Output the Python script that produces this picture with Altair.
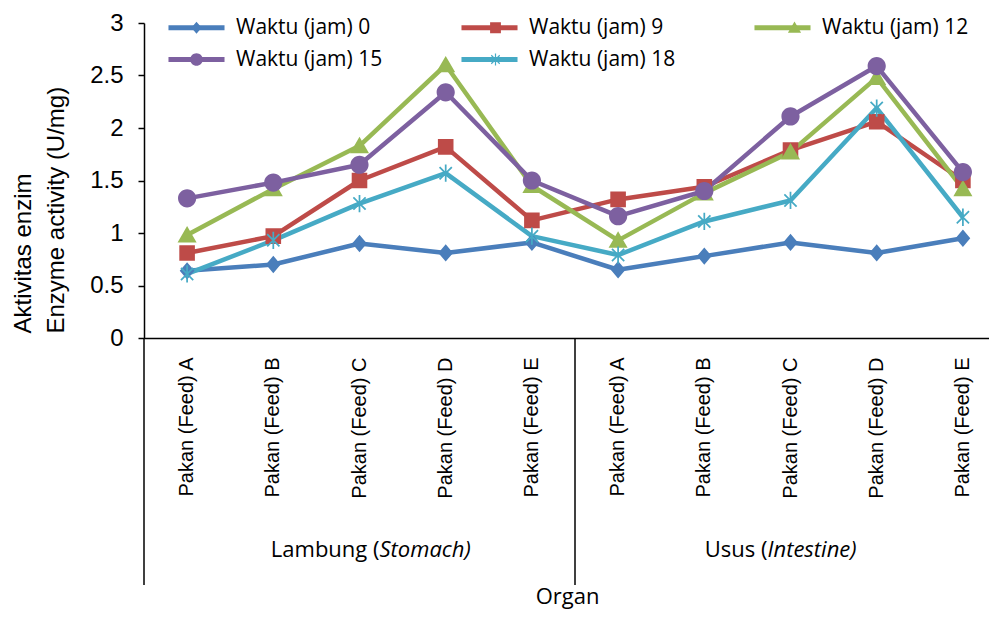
import altair as alt
import pandas as pd

# ---------------- data ----------------
organs = ["Lambung", "Usus"]
organ_left = ["Lambung (", "Usus ("]
organ_right = ["Stomach)", "Intestine)"]
feeds = ["Pakan (Feed) A", "Pakan (Feed) B", "Pakan (Feed) C", "Pakan (Feed) D", "Pakan (Feed) E"]
series_names = ["Waktu (jam) 0", "Waktu (jam) 9", "Waktu (jam) 12", "Waktu (jam) 15", "Waktu (jam) 18"]

jam0 = [0.64, 0.70, 0.90, 0.81, 0.91, 0.65, 0.78, 0.91, 0.81, 0.95]
jam9 = [0.81, 0.97, 1.50, 1.82, 1.12, 1.32, 1.44, 1.79, 2.06, 1.50]
jam12 = [0.98, 1.42, 1.83, 2.60, 1.45, 0.93, 1.38, 1.77, 2.48, 1.42]
jam15 = [1.33, 1.48, 1.65, 2.34, 1.50, 1.16, 1.40, 2.11, 2.59, 1.58]
jam18 = [0.61, 0.93, 1.28, 1.57, 0.97, 0.79, 1.11, 1.31, 2.19, 1.15]

y_ticks = [0, 0.5, 1, 1.5, 2, 2.5, 3]
colors = ["#4A7EBB", "#BE4B48", "#98B954", "#7D60A0", "#46AAC5"]

# ---------------- tables ----------------
keys = [f"{o}|{f}" for o in organs for f in feeds]
rows = []
for s, vals in zip(series_names, [jam0, jam9, jam12, jam15, jam18]):
    for k, v in zip(keys, vals):
        rows.append({"series": s, "key": k, "value": v})
df = pd.DataFrame(rows)

df_div = pd.DataFrame({"key": [f"{o}|{feeds[0]}" for o in organs]})
df_grp = pd.DataFrame({
    "key": [f"{o}|{feeds[len(feeds) // 2]}" for o in organs],
    "organ": organs,
    "left": organ_left,
    "right": organ_right,
})

# ---------------- styles ----------------
H = 315
stub = "M-4.67,0L4.67,0 "
shapes = [
    stub + "M0,-1L0.85,0L0,1L-0.85,0Z",
    stub + "M-0.9,-0.9L0.9,-0.9L0.9,0.9L-0.9,0.9Z",
    stub + "M0,-1.05L1.1,0.85L-1.1,0.85Z",
    stub + "M1.05,0A1.05,1.05,0,1,1,-1.05,0A1.05,1.05,0,1,1,1.05,0Z",
    stub + "M-0.1,-1L0.1,-1L0.1,1L-0.1,1Z "
           "M-0.636,-0.778L0.778,0.636L0.636,0.778L-0.778,-0.636Z "
           "M0.778,-0.636L-0.636,0.778L-0.778,0.636L0.636,-0.778Z",
]
line_symbol = "M-4.67,0L4.67,0"

xscale = alt.Scale(type="band", domain=keys, range=[0, 862], paddingInner=0, paddingOuter=0)
xaxis = alt.Axis(
    title="Organ", labelExpr="split(datum.value, '|')[1]", labelAngle=270,
    labelAlign="right", labelBaseline="middle", labelPadding=19, ticks=False, tickSize=0,
    labelFont="Liberation Sans", labelFontSize=20, labelColor="#000", labelLimit=300,
    domainColor="#000", domainWidth=1.5, grid=False,
    titleFont="Open Sans", titleFontSize=22, titleFontWeight="normal", titleColor="#000",
    titleX=423, titleY=258, titleBaseline="middle", titleAlign="center",
)
yscale = alt.Scale(domain=[0, 3], nice=False, zero=True)
yaxis = alt.Axis(
    values=y_ticks, format="~f", grid=False, tickSize=6, tickColor="#000", tickWidth=1.5,
    domainColor="#000", domainWidth=1.5, labelFont="Liberation Sans", labelFontSize=24,
    labelPadding=15, labelColor="#000",
    title=["Aktivitas enzim", "Enzyme activity (U/mg)"], titleFont="Liberation Sans",
    titleFontSize=24, titleFontWeight="normal", titleColor="#000", titleAngle=270,
    titleAlign="left", titleBaseline="top", titleX=-133, titleY=310, titleLineHeight=33,
)

leg_common = dict(
    orient="none", legendX=42, legendY=-6, columns=3, direction="horizontal", title=None,
    labelFont="Open Sans", labelFontSize=21, labelColor="#000", labelOffset=29,
    symbolSize=144, rowPadding=10, padding=0, labelLimit=300,
)
marker_leg = dict(leg_common, symbolStrokeWidth=0, labelExpr="''", columnPadding=231)

def xenc(bp):
    return alt.X("key:N", sort=keys, bandPosition=bp, scale=xscale, axis=xaxis)

yenc = alt.Y("value:Q", scale=yscale, axis=yaxis)

lines = alt.Chart(df).mark_line(strokeWidth=4.5, strokeJoin="round").encode(
    x=xenc(0.5), y=yenc,
    color=alt.Color("series:N", scale=alt.Scale(domain=series_names, range=colors),
                    legend=alt.Legend(symbolType=line_symbol, symbolStrokeWidth=5,
                                      columnPadding=68, **leg_common)),
    order=alt.Order("key:N"),
)

points = alt.Chart(df).mark_point(filled=True, size=300, opacity=1).encode(
    x=xenc(0.5), y=yenc,
    color=alt.Color("series:N", scale=alt.Scale(domain=series_names, range=colors),
                    legend=alt.Legend(**marker_leg)),
    shape=alt.Shape("series:N", scale=alt.Scale(domain=series_names, range=shapes),
                    legend=alt.Legend(**marker_leg)),
)

dividers = alt.Chart(df_div).mark_rule(color="#000", strokeWidth=1.5).encode(
    x=xenc(0), y=alt.value(H), y2=alt.value(H + 247),
)

group_dx = [20, -23]
grp_layers = []
for organ, dxv in zip(organs, group_dx):
    base = alt.Chart(df_grp).transform_filter(alt.datum.organ == organ)
    grp_layers.append(base.mark_text(align="right", baseline="middle", dx=dxv, font="Open Sans",
                                     fontSize=22, color="#000").encode(
        x=xenc(0.5), y=alt.value(H + 212), text="left:N"))
    grp_layers.append(base.mark_text(align="left", baseline="middle", dx=dxv, font="Open Sans",
                                     fontSize=22, fontStyle="italic", color="#000").encode(
        x=xenc(0.5), y=alt.value(H + 212), text="right:N"))

chart = alt.layer(dividers, lines, points, *grp_layers).resolve_scale(
    color="independent", shape="independent"
).resolve_legend(color="independent", shape="independent").properties(
    width=845, height=H,
    autosize=alt.AutoSizeParams(type="none"),
    padding={"left": 136, "top": 15, "right": 0, "bottom": 273},
).configure_view(stroke=None)

chart.save("out.html", embed_options={"renderer": "svg", "actions": False})
